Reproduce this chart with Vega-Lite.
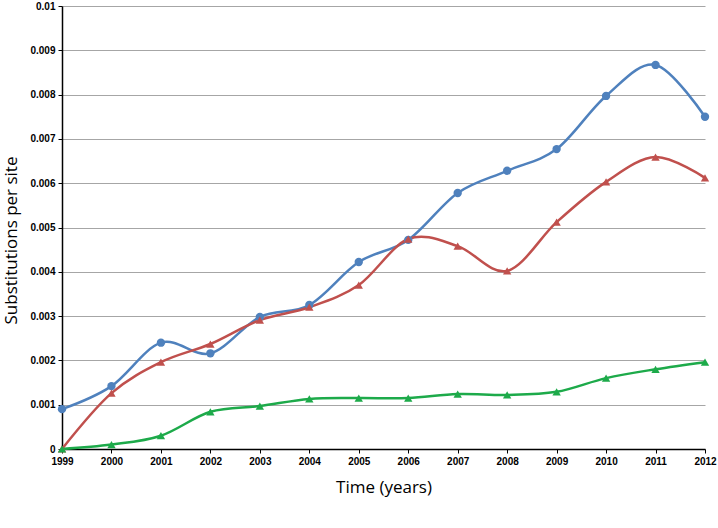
{
  "$schema": "https://vega.github.io/schema/vega-lite/v6.json",
  "width": 643,
  "height": 443,
  "autosize": {"type": "none"},
  "padding": {"left": 62, "top": 6, "right": 13, "bottom": 79},
  "background": "white",
  "config": {"view": {"stroke": null}},
  "data": {
    "values": [
      {"year": 1999, "series": "A", "value": 0.0009},
      {"year": 2000, "series": "A", "value": 0.00142},
      {"year": 2001, "series": "A", "value": 0.0024},
      {"year": 2002, "series": "A", "value": 0.00216},
      {"year": 2003, "series": "A", "value": 0.00298},
      {"year": 2004, "series": "A", "value": 0.00325},
      {"year": 2005, "series": "A", "value": 0.00422},
      {"year": 2006, "series": "A", "value": 0.00472},
      {"year": 2007, "series": "A", "value": 0.00578},
      {"year": 2008, "series": "A", "value": 0.00628},
      {"year": 2009, "series": "A", "value": 0.00677},
      {"year": 2010, "series": "A", "value": 0.00797},
      {"year": 2011, "series": "A", "value": 0.00867},
      {"year": 2012, "series": "A", "value": 0.0075},
      {"year": 1999, "series": "B", "value": 0},
      {"year": 2000, "series": "B", "value": 0.00126},
      {"year": 2001, "series": "B", "value": 0.00196},
      {"year": 2002, "series": "B", "value": 0.00237},
      {"year": 2003, "series": "B", "value": 0.00291},
      {"year": 2004, "series": "B", "value": 0.0032},
      {"year": 2005, "series": "B", "value": 0.0037},
      {"year": 2006, "series": "B", "value": 0.00474},
      {"year": 2007, "series": "B", "value": 0.00458},
      {"year": 2008, "series": "B", "value": 0.00402},
      {"year": 2009, "series": "B", "value": 0.00512},
      {"year": 2010, "series": "B", "value": 0.00603},
      {"year": 2011, "series": "B", "value": 0.00659},
      {"year": 2012, "series": "B", "value": 0.00612},
      {"year": 1999, "series": "C", "value": 0},
      {"year": 2000, "series": "C", "value": 0.0001},
      {"year": 2001, "series": "C", "value": 0.0003},
      {"year": 2002, "series": "C", "value": 0.00084},
      {"year": 2003, "series": "C", "value": 0.00097},
      {"year": 2004, "series": "C", "value": 0.00113},
      {"year": 2005, "series": "C", "value": 0.00115},
      {"year": 2006, "series": "C", "value": 0.00115},
      {"year": 2007, "series": "C", "value": 0.00124},
      {"year": 2008, "series": "C", "value": 0.00122},
      {"year": 2009, "series": "C", "value": 0.00129},
      {"year": 2010, "series": "C", "value": 0.0016},
      {"year": 2011, "series": "C", "value": 0.0018},
      {"year": 2012, "series": "C", "value": 0.00196}
    ]
  },
  "encoding": {
    "x": {
      "field": "year", "type": "quantitative",
      "scale": {"domain": [1999, 2012], "nice": false, "zero": false},
      "axis": {
        "title": "Time (years)",
        "values": [1999,2000,2001,2002,2003,2004,2005,2006,2007,2008,2009,2010,2011,2012],
        "format": "d",
        "grid": false,
        "domainColor": "#000000", "domainWidth": 1.5,
        "tickColor": "#000000", "tickSize": 4,
        "labelFont": "Liberation Sans", "labelFontWeight": "bold", "labelFontSize": 10, "labelColor": "#000000",
        "labelPadding": 3, "labelFlush": false,
        "titleFont": "Open Sans", "titleFontSize": 17, "titleFontWeight": "normal", "titleColor": "#000000",
        "titlePadding": 13
      }
    },
    "y": {
      "field": "value", "type": "quantitative",
      "scale": {"domain": [0, 0.01], "nice": false},
      "axis": {
        "title": "Substitutions per site",
        "values": [0,0.001,0.002,0.003,0.004,0.005,0.006,0.007,0.008,0.009,0.01],
        "format": ".3~f",
        "grid": true, "gridColor": "#A6A6A6", "gridWidth": 1,
        "domainColor": "#000000", "domainWidth": 1.5,
        "tickColor": "#000000", "tickSize": 4,
        "labelFont": "Liberation Sans", "labelFontWeight": "bold", "labelFontSize": 10, "labelColor": "#000000",
        "labelPadding": 3,
        "titleFont": "Open Sans", "titleFontSize": 17, "titleFontWeight": "normal", "titleColor": "#000000",
        "titlePadding": 9, "titleY": 234
      }
    },
    "color": {
      "field": "series", "type": "nominal", "legend": null,
      "scale": {"domain": ["A", "B", "C"], "range": ["#4F81BD", "#C0504D", "#1DAA4A"]}
    }
  },
  "layer": [
    {"mark": {"type": "line", "interpolate": "cardinal", "strokeWidth": 2.5}},
    {
      "mark": {"type": "point", "filled": true, "opacity": 1, "size": 70},
      "encoding": {
        "shape": {
          "field": "series", "type": "nominal", "legend": null,
          "scale": {"domain": ["A", "B", "C"], "range": ["circle", "triangle-up", "triangle-up"]}
        }
      }
    }
  ]
}
